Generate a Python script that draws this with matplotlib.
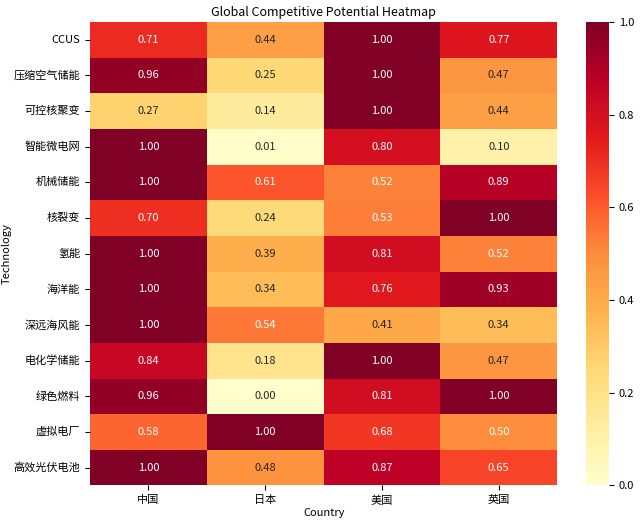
import numpy as np
import matplotlib
matplotlib.use("Agg")
import matplotlib.pyplot as plt
import seaborn as sns
import pandas as pd

plt.rcParams['font.family'] = ['Noto Sans CJK SC', 'DejaVu Sans']
plt.rcParams['axes.unicode_minus'] = False

countries = ["中国", "日本", "美国", "英国"]
techs = ["CCUS", "压缩空气储能", "可控核聚变", "智能微电网", "机械储能", "核裂变", "氢能",
         "海洋能", "深远海风能", "电化学储能", "绿色燃料", "虚拟电厂", "高效光伏电池"]

china = [0.71, 0.96, 0.27, 1.00, 1.00, 0.70, 1.00, 1.00, 1.00, 0.84, 0.96, 0.58, 1.00]
japan = [0.44, 0.25, 0.14, 0.01, 0.61, 0.24, 0.39, 0.34, 0.54, 0.18, 0.00, 1.00, 0.48]
usa = [1.00, 1.00, 1.00, 0.80, 0.52, 0.53, 0.81, 0.76, 0.41, 1.00, 0.81, 0.68, 0.87]
uk = [0.77, 0.47, 0.44, 0.10, 0.89, 1.00, 0.52, 0.93, 0.34, 0.47, 1.00, 0.50, 0.65]

df = pd.DataFrame({"中国": china, "日本": japan, "美国": usa, "英国": uk}, index=techs)

fig = plt.figure(figsize=(6.4, 5.24), dpi=100)
ax = fig.add_axes([0.1406, 0.0735, 0.730, 0.8845])
cax = fig.add_axes([0.9156, 0.0735, 0.036, 0.8845])
sns.heatmap(df, ax=ax, cbar_ax=cax, cmap="YlOrRd", vmin=0, vmax=1, annot=True, fmt=".2f",
            linewidths=0, annot_kws={"size": 8})
ax.set_title("Global Competitive Potential Heatmap", fontsize=9, pad=4)
ax.set_xlabel("Country", fontsize=8, labelpad=2)
ax.set_ylabel("Technology", fontsize=8)
ax.yaxis.set_label_coords(-0.167, 0.5)
ax.tick_params(axis='both', labelsize=8)
plt.setp(ax.get_yticklabels(), rotation=0)
plt.setp(ax.get_xticklabels(), rotation=0)
cax.tick_params(labelsize=8)
fig.savefig("out.png", dpi=100)
